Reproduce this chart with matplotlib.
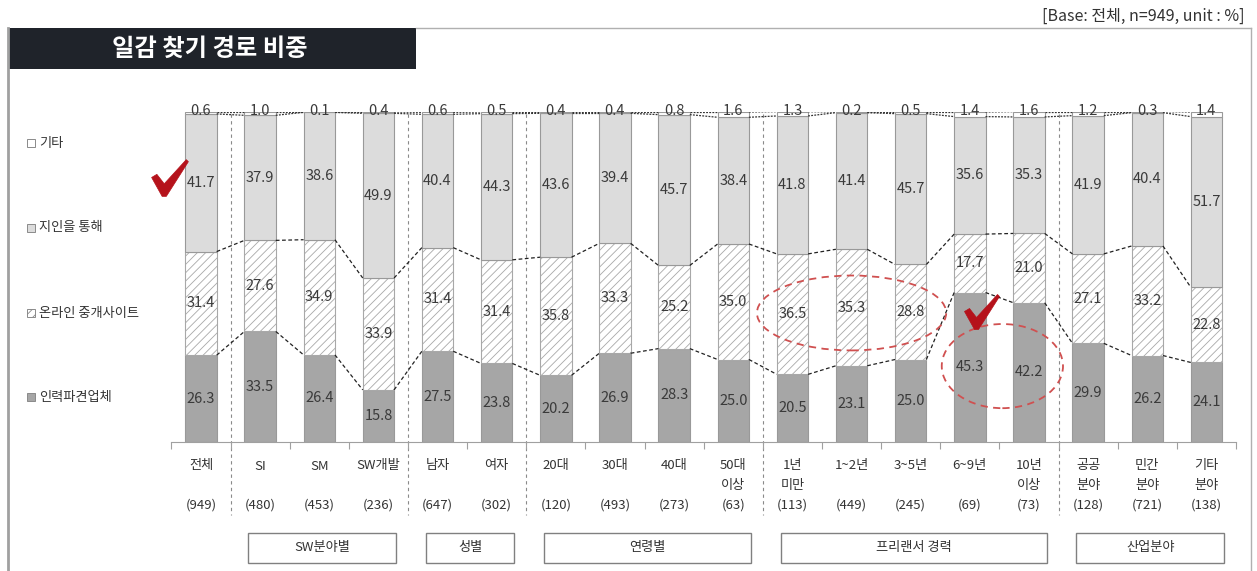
import numpy as np
import matplotlib
matplotlib.use('Agg')
import matplotlib.pyplot as plt
from matplotlib.patches import Rectangle, Ellipse, Polygon
from matplotlib.transforms import blended_transform_factory

plt.rcParams['font.family'] = ['Noto Sans CJK KR', 'DejaVu Sans']
plt.rcParams['hatch.linewidth'] = 0.6

cats = ['전체', 'SI', 'SM', 'SW개발', '남자', '여자', '20대', '30대', '40대', '50대\n이상',
        '1년\n미만', '1~2년', '3~5년', '6~9년', '10년\n이상', '공공\n분야', '민간\n분야', '기타\n분야']
counts = [949, 480, 453, 236, 647, 302, 120, 493, 273, 63, 113, 449, 245, 69, 73, 128, 721, 138]

agency = [26.3, 33.5, 26.4, 15.8, 27.5, 23.8, 20.2, 26.9, 28.3, 25.0, 20.5, 23.1, 25.0, 45.3, 42.2, 29.9, 26.2, 24.1]
online = [31.4, 27.6, 34.9, 33.9, 31.4, 31.4, 35.8, 33.3, 25.2, 35.0, 36.5, 35.3, 28.8, 17.7, 21.0, 27.1, 33.2, 22.8]
friend = [41.7, 37.9, 38.6, 49.9, 40.4, 44.3, 43.6, 39.4, 45.7, 38.4, 41.8, 41.4, 45.7, 35.6, 35.3, 41.9, 40.4, 51.7]
other = [0.6, 1.0, 0.1, 0.4, 0.6, 0.5, 0.4, 0.4, 0.8, 1.6, 1.3, 0.2, 0.5, 1.4, 1.6, 1.2, 0.3, 1.4]

groups = [('SW분야별', 1, 3), ('성별', 4, 5), ('연령별', 6, 9), ('프리랜서 경력', 10, 14), ('산업분야', 15, 17)]
dividers = [0.5, 3.5, 5.5, 9.5, 14.5]

W, H = 1257, 571
fig = plt.figure(figsize=(W / 100, H / 100), dpi=100)

def fx(px):
    return px / W

def fy(py):
    return 1 - py / H

ax = fig.add_axes([fx(171.4), fy(442), fx(1236) - fx(171.4), fy(112) - fy(442)])
ax.set_xlim(-0.5, len(cats) - 0.5)
ax.set_ylim(0, 100)
for s in ['top', 'right', 'left']:
    ax.spines[s].set_visible(False)
ax.spines['bottom'].set_color('#a0a0a0')
ax.set_yticks([])
ax.set_xticks(np.arange(-0.5, len(cats), 1.0))
ax.set_xticklabels([])
ax.tick_params(axis='x', length=5, color='#a0a0a0', direction='out')

x = np.arange(len(cats))
w = 0.53
agency = np.array(agency)
online = np.array(online)
friend = np.array(friend)
other = np.array(other)

c1 = agency
c2 = agency + online
c3 = c2 + friend
c4 = c3 + other

ax.bar(x, agency, w, color='#a6a6a6', edgecolor='#999999', lw=0.8, zorder=2)
ax.bar(x, online, w, bottom=c1, color='white', edgecolor='#a8a8a8', hatch='////', lw=0.8, zorder=2)
ax.bar(x, friend, w, bottom=c2, color='#dcdcdc', edgecolor='#999999', lw=0.8, zorder=2)
ax.bar(x, other, w, bottom=c3, color='white', edgecolor='#999999', lw=0.8, zorder=2)

# dashed connectors between neighbouring bars
for i in range(len(cats) - 1):
    xa, xb = x[i] + w / 2, x[i + 1] - w / 2
    for lev in (c1, c2):
        ax.plot([xa, xb], [lev[i], lev[i + 1]], color='#222222', lw=0.9,
                ls=(0, (3, 2)), zorder=3)
    for lev in (c3, c4):
        ax.plot([xa, xb], [lev[i], lev[i + 1]], color='#333333', lw=0.9,
                ls=(0, (1.5, 1)), zorder=3)

# value labels
tc = '#3a3a3a'
for i in range(len(cats)):
    ax.text(x[i], agency[i] / 2, f'{agency[i]:.1f}', ha='center', va='center', fontsize=10.5, color=tc, zorder=4)
    ax.text(x[i], c1[i] + online[i] / 2, f'{online[i]:.1f}', ha='center', va='center', fontsize=10.5, color=tc, zorder=4)
    ax.text(x[i], c2[i] + friend[i] / 2, f'{friend[i]:.1f}', ha='center', va='center', fontsize=10.5, color=tc, zorder=4)
    ax.text(x[i], 100.2, f'{other[i]:.1f}', ha='center', va='center', fontsize=10.5, color=tc, zorder=4)

# category and sample size labels
tb = blended_transform_factory(ax.transData, fig.transFigure)
for i, (c, n) in enumerate(zip(cats, counts)):
    for j, line in enumerate(c.split('\n')):
        ax.text(x[i], fy(466 + 20 * j), line, transform=tb, ha='center', va='center',
                fontsize=9.5, color='#333333', clip_on=False)
    ax.text(x[i], fy(505), f'({n})', transform=tb, ha='center', va='center',
            fontsize=9.5, color='#333333', clip_on=False)

# group dividers
for d in dividers:
    ax.plot([d, d], [fy(114), fy(515)], transform=tb, color='#8a8a8a', lw=0.8,
            ls=(0, (3, 3)), clip_on=False, zorder=1)

# group boxes
for name, a, b in groups:
    left, right = a - 0.2, b + 0.3
    r = Rectangle((left, fy(563)), right - left, fy(533) - fy(563), transform=tb,
                  facecolor='white', edgecolor='#808080', lw=1.0, clip_on=False)
    ax.add_patch(r)
    ax.text((left + right) / 2, fy(548), name, transform=tb, ha='center', va='center',
            fontsize=9.5, color='#333333', clip_on=False)

# legend on the left
leg = [('기타', 'white', None, 143), ('지인을 통해', '#dcdcdc', None, 228),
       ('온라인 중개사이트', 'white', '////', 313), ('인력파견업체', '#a6a6a6', None, 397)]
for lab, fc, ht, py in leg:
    fig.patches.append(Rectangle((fx(27), fy(py + 4)), fx(8), fy(py - 4) - fy(py + 4),
                                 transform=fig.transFigure, facecolor=fc, edgecolor='#8a8a8a',
                                 hatch=ht, lw=0.7))
    fig.text(fx(39), fy(py), lab, ha='left', va='center', fontsize=9.5, color='#333333')

# panel frame and title block
fig.add_artist(plt.Line2D([fx(8), fx(8)], [fy(28), 0], color='#a0a0a0', lw=2))
fig.add_artist(plt.Line2D([fx(416), fx(1251)], [fy(28), fy(28)], color='#b0b0b0', lw=1))
fig.add_artist(plt.Line2D([fx(1251), fx(1251)], [fy(28), 0], color='#b0b0b0', lw=1))
fig.patches.append(Rectangle((fx(8), fy(69)), fx(416) - fx(8), fy(28) - fy(69),
                             transform=fig.transFigure, facecolor='#1f232a', edgecolor='none'))
fig.text(fx(210), fy(49), '일감 찾기 경로 비중', ha='center', va='center', fontsize=17.5,
         fontweight='bold', color='white')
fig.text(fx(1245), fy(16), '[Base: 전체, n=949, unit : %]', ha='right', va='center',
         fontsize=11.5, color='#333333')

# highlight marks
red = '#b5121b'
def check(cx, cy, s):
    pts = [(0, 17), (5, 14), (12, 23), (33, 0), (35, 2), (14, 35), (10, 35)]
    pts = [(fx(cx + (px - 17.5) * s), fy(cy + (py - 17.5) * s)) for px, py in pts]
    fig.patches.append(Polygon(pts, closed=True, transform=fig.transFigure,
                               facecolor=red, edgecolor=red, lw=0.5))

check(170, 178, 1.05)
check(982, 312, 1.0)

ax.add_patch(Ellipse((11, 39.1), 3.2, 22.7, fill=False, edgecolor='#d05050', lw=1.3,
                     ls=(0, (4, 3)), clip_on=False, zorder=5))
ax.add_patch(Ellipse((13.55, 23), 2.05, 25.5, fill=False, edgecolor='#d05050', lw=1.3,
                     ls=(0, (4, 3)), clip_on=False, zorder=5))

fig.savefig('out.png', dpi=100)
